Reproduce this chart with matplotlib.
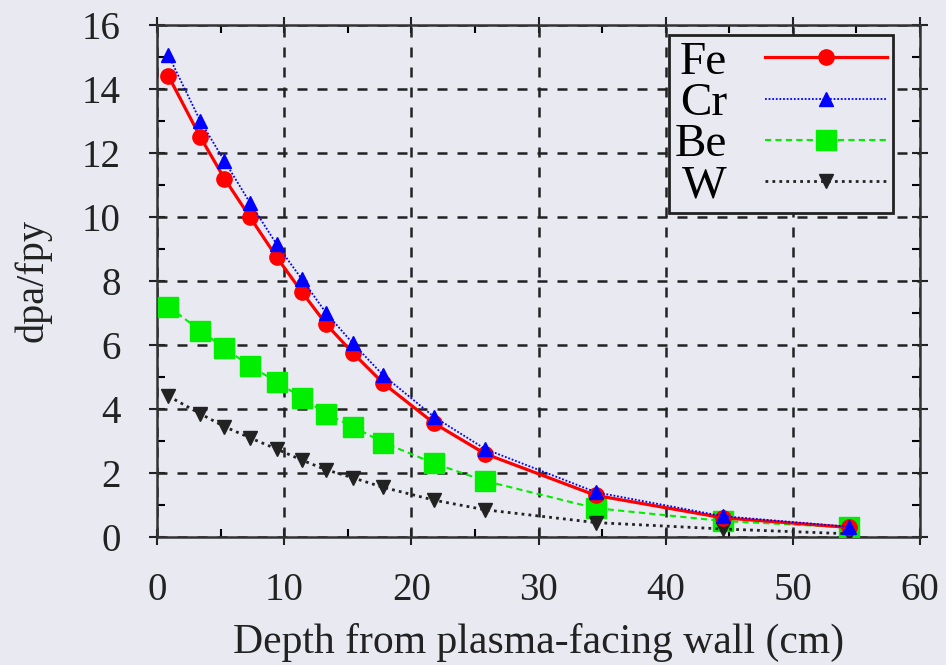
import numpy as np
from matplotlib import pyplot as plt
from matplotlib.ticker import MultipleLocator

depth = [0.9, 3.4, 5.3, 7.3, 9.4, 11.4, 13.3, 15.4, 17.8, 21.8, 25.8, 34.5, 44.5, 54.4]
fe = [14.4, 12.5, 11.2, 10.0, 8.75, 7.65, 6.65, 5.75, 4.8, 3.55, 2.6, 1.3, 0.6, 0.3]
cr = [15.05, 13.0, 11.75, 10.45, 9.15, 8.05, 7.0, 6.05, 5.05, 3.75, 2.75, 1.4, 0.65, 0.32]
be = [7.2, 6.45, 5.9, 5.35, 4.85, 4.35, 3.85, 3.45, 2.95, 2.3, 1.75, 0.9, 0.5, 0.3]
w = [4.4, 3.85, 3.45, 3.1, 2.75, 2.4, 2.1, 1.85, 1.55, 1.15, 0.85, 0.45, 0.25, 0.1]

bg = '#e9e9f1'
plt.rcParams['font.family'] = ['Liberation Serif', 'DejaVu Serif']

fig = plt.figure(figsize=(9.46, 6.65), dpi=100, facecolor=bg)
ax = fig.add_axes([0.166, 0.1925, 0.8065, 0.77])
ax.set_facecolor(bg)

ax.plot(depth, fe, color='red', lw=2.3, marker='o', ms=11, label='Fe', zorder=4)
ax.plot(depth, cr, color='blue', lw=1.3, ls=(0, (1, 1)), marker='^', ms=10, label='Cr', zorder=5)
ax.plot(depth, be, color='#00ee00', lw=1.5, ls=(0, (3, 2)), marker='s', ms=14, label='Be', zorder=3)
ax.plot(depth, w, color='#222222', lw=2, ls=(0, (1, 1.5)), marker='v', ms=10, label='W', zorder=3)

ax.set_xlim(0, 60)
ax.set_ylim(0, 16)
ax.xaxis.set_major_locator(MultipleLocator(10))
ax.xaxis.set_minor_locator(MultipleLocator(5))
ax.yaxis.set_major_locator(MultipleLocator(2))
ax.yaxis.set_minor_locator(MultipleLocator(1))
ax.tick_params(which='major', direction='inout', length=12, width=1.5, labelsize=28,
               top=True, right=True, colors='#222222', labelcolor='#222222')
ax.tick_params(which='minor', direction='in', length=6, width=1.5, top=True, right=True)
ax.tick_params(axis='x', pad=19)
ax.tick_params(axis='y', pad=20)
ax.grid(True, which='major', color='#222222', ls=(0, (4, 4)), lw=1.8)
ax.set_axisbelow(True)
for s in ax.spines.values():
    s.set_linewidth(1.8)
    s.set_color('#333333')

ax.set_xlabel('Depth from plasma-facing wall (cm)', fontsize=30, color='#222222', labelpad=10)
ax.set_ylabel('dpa/fpy', fontsize=29, color='#222222', labelpad=22)

leg = ax.legend(loc='upper right', bbox_to_anchor=(0.9646, 0.98), fontsize=34,
                frameon=True, fancybox=False, edgecolor='#222222', facecolor=bg,
                framealpha=1, handlelength=2.6, handletextpad=0.8, borderpad=0.12,
                labelspacing=-0.04, markerfirst=False, borderaxespad=0)
leg.get_frame().set_linewidth(2)

fig.savefig('out.png', dpi=100, facecolor=bg)
